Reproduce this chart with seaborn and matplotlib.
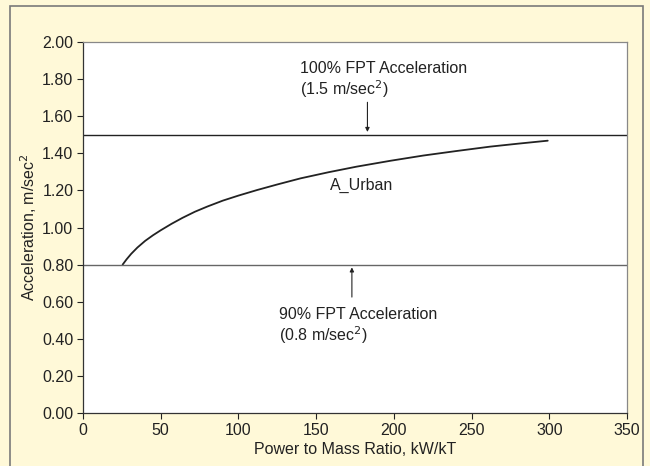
import matplotlib
matplotlib.use("Agg")
import matplotlib.pyplot as plt
from matplotlib.patches import Rectangle
import pandas as pd
import seaborn as sns

# curve values
power_ratio = [25.5, 28, 31, 35, 40, 45, 50, 57, 64, 72, 80, 90, 100, 112, 125, 140, 158, 176,
               198, 219, 240, 262, 280, 299]
accel = [0.80, 0.828, 0.858, 0.892, 0.928, 0.958, 0.985, 1.020, 1.052, 1.085, 1.113, 1.145, 1.172,
         1.202, 1.232, 1.265, 1.298, 1.328, 1.360, 1.388, 1.412, 1.436, 1.452, 1.468]
upper_limit = 1.5
lower_limit = 0.8
x_ticks = [0, 50, 100, 150, 200, 250, 300, 350]
y_ticks = [0.0, 0.2, 0.4, 0.6, 0.8, 1.0, 1.2, 1.4, 1.6, 1.8, 2.0]

sns.set_style("ticks")
plt.rcParams['font.family'] = ['Liberation Sans', 'DejaVu Sans']

df = pd.DataFrame({'power': power_ratio, 'accel': accel})

fig = plt.figure(figsize=(6.5, 4.66), dpi=100)
fig.patch.set_facecolor('#fff9d8')
fig.patches.append(Rectangle((10 / 650, -0.05), 633 / 650, 1.05 - 6 / 466,
                             transform=fig.transFigure, fill=False,
                             edgecolor='#7a7a7a', linewidth=1.2))
ax = fig.add_axes([83 / 650, 53 / 466, 544 / 650, 371 / 466])
ax.set_facecolor('white')

sns.lineplot(data=df, x='power', y='accel', ax=ax, color='#222222', linewidth=1.3)
ax.axhline(upper_limit, color='#222222', linewidth=1.0)
ax.axhline(lower_limit, color='#666666', linewidth=1.0)

ax.annotate('', xy=(183, upper_limit), xytext=(183, 1.69),
            arrowprops=dict(arrowstyle='-|>', color='#222222', lw=0.8, mutation_scale=6))
ax.annotate('', xy=(173, lower_limit), xytext=(173, 0.61),
            arrowprops=dict(arrowstyle='-|>', color='#222222', lw=0.8, mutation_scale=6))

fs = 11.5
ax.text(139.5, 1.895, '100% FPT Acceleration\n(1.5 m/sec$^2$)', fontsize=fs,
        color='#222222', va='top', ha='left', linespacing=1.1)
ax.text(159, 1.226, 'A_Urban', fontsize=fs, color='#222222', va='center', ha='left')
ax.text(126, 0.569, '90% FPT Acceleration\n(0.8 m/sec$^2$)', fontsize=fs,
        color='#222222', va='top', ha='left', linespacing=1.1)

ax.set_xlim(0, 350)
ax.set_ylim(0, 2.0)
ax.set_xticks(x_ticks)
ax.set_yticks(y_ticks)
ax.set_yticklabels(['%.2f' % v for v in y_ticks])
ax.tick_params(labelsize=fs, colors='#222222', length=4, width=0.8, pad=3)
ax.set_xlabel('Power to Mass Ratio, kW/kT', fontsize=fs, color='#222222', labelpad=3)
ax.set_ylabel('Acceleration, m/sec$^2$', fontsize=fs, color='#222222', labelpad=2)

for side in ['left', 'bottom']:
    ax.spines[side].set_color('#333333')
    ax.spines[side].set_linewidth(0.9)
for side in ['top', 'right']:
    ax.spines[side].set_visible(True)
    ax.spines[side].set_color('#888888')
    ax.spines[side].set_linewidth(0.9)

fig.savefig('out.png', dpi=100, facecolor=fig.get_facecolor())
